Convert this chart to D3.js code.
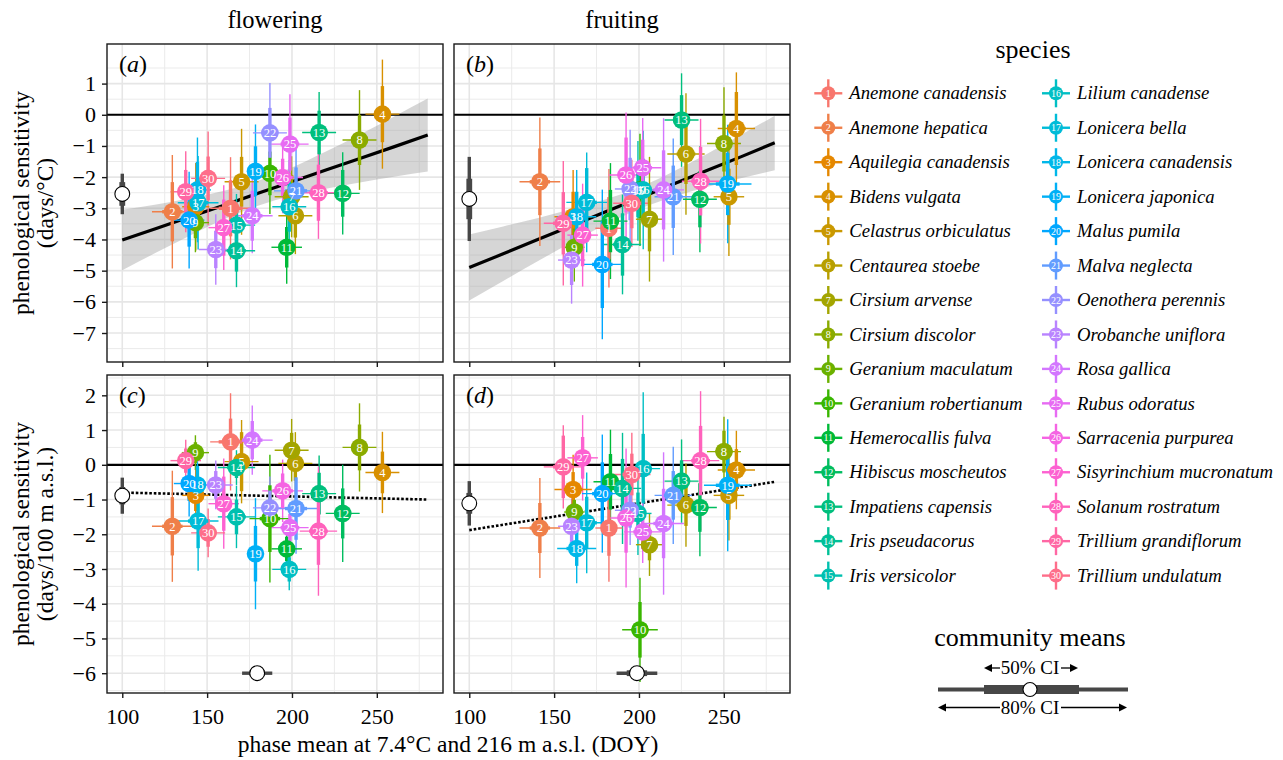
<!DOCTYPE html>
<html>
<head>
<meta charset="utf-8">
<script src="https://cdn.jsdelivr.net/npm/d3@7"></script>
<style>
  body { margin: 0; background: #fff; }
  text { font-family: "Liberation Serif", "Times New Roman", serif; }
</style>
</head>
<body>
<svg id="chart" width="1283" height="760"></svg>
<script>
// SPECIES
var species = ['Anemone canadensis', 'Anemone hepatica', 'Aquilegia canadensis', 'Bidens vulgata',
  'Celastrus orbiculatus', 'Centaurea stoebe', 'Cirsium arvense', 'Cirsium discolor',
  'Geranium maculatum', 'Geranium robertianum', 'Hemerocallis fulva', 'Hibiscus moscheutos',
  'Impatiens capensis', 'Iris pseudacorus', 'Iris versicolor', 'Lilium canadense',
  'Lonicera bella', 'Lonicera canadensis', 'Lonicera japonica', 'Malus pumila',
  'Malva neglecta', 'Oenothera perennis', 'Orobanche uniflora', 'Rosa gallica',
  'Rubus odoratus', 'Sarracenia purpurea', 'Sisyrinchium mucronatum', 'Solanum rostratum',
  'Trillium grandiflorum', 'Trillium undulatum'];

// PHASE MEANS (DOY) with half widths of the 80% and 50% intervals
var flowerDOY   = [163.8, 129.5, 143.3, 253.3, 170.3, 202.0, 199.8, 239.8, 143.1, 187.0, 196.9, 229.9, 216.0, 167.3, 167.3,
                   198.4, 144.7, 144.3, 178.5, 139.4, 202.4, 187.0, 155.1, 176.6, 198.8, 194.5, 159.8, 215.6, 137.4, 150.6];
var flowerCI80  = [12, 12, 8, 10, 10, 10, 10, 10, 8, 12, 9, 10, 10, 11, 11, 10, 12, 8, 5, 9, 13, 10, 10, 12, 11, 12, 9, 11, 9, 10];
var flowerCI50  = [7, 6, 4, 5, 5, 5, 5, 5, 4, 6, 4.5, 5, 5, 5.5, 5.5, 5, 6, 4, 2.5, 4.5, 6.5, 5, 5, 6, 5.5, 6, 4.5, 5.5, 4.5, 5];
var fruitDOY    = [182.3, 141.6, 161.2, 257.4, 253.0, 227.7, 206.2, 250.1, 161.9, 200.6, 183.2, 235.9, 225.1, 190.3, 199.4,
                   202.5, 169.2, 163.3, 252.3, 178.4, 220.2, 194.8, 160.3, 214.5, 202.2, 192.4, 166.8, 236.3, 155.4, 195.8];
var fruitCI80   = [8, 12, 11, 11, 9, 11, 8, 10, 6, 10.5, 10, 10, 10, 11, 8, 10, 12, 11.5, 14, 12, 11, 9, 8, 12, 11, 10, 9, 11, 11.5, 11];
var fruitCI50   = [4, 6, 5.5, 5.5, 4.5, 5.5, 4, 5, 3, 5, 5, 5, 5, 5.5, 4, 5, 6, 6, 7, 6, 5.5, 4.5, 4, 6, 5.5, 5, 4.5, 5.5, 6, 5.5];

// SENSITIVITY TO TEMPERATURE (days/°C)
var tempFlower      = [-3.00, -3.11, -2.95, 0.02, -2.15, -3.24, -2.63, -0.81, -3.46, -1.88, -4.25, -2.52, -0.57, -4.36, -3.54,
                       -2.95, -2.82, -2.41, -1.81, -3.38, -2.44, -0.58, -4.32, -3.24, -0.94, -2.01, -3.62, -2.50, -2.47, -2.04];
var tempFlowerCI80  = [1.64, 1.82, 1.4, 1.75, 1.7, 1.23, 1.3, 1.6, 0.95, 1.3, 1.17, 1.32, 1.3, 1.17, 1.0,
                       1.5, 1.5, 1.68, 1.5, 1.55, 1.4, 1.6, 1.13, 1.2, 1.6, 1.15, 1.36, 1.48, 1.3, 1.5];
var tempFlowerCI50  = [0.9, 0.95, 0.7, 0.9, 0.8, 0.7, 0.7, 0.8, 0.5, 0.7, 0.65, 0.75, 0.7, 0.67, 0.55,
                       0.8, 0.8, 0.9, 0.8, 0.85, 0.75, 0.8, 0.6, 0.8, 0.85, 0.6, 0.9, 0.9, 0.7, 0.7];
var tempFruit       = [-3.64, -2.15, -3.27, -0.44, -2.63, -1.26, -3.35, -0.92, -4.25, -2.41, -3.41, -2.71, -0.17, -4.16, -2.44,
                       -2.41, -2.81, -3.27, -2.22, -4.80, -2.63, -2.38, -4.66, -2.41, -1.70, -1.93, -3.86, -2.13, -3.48, -2.84];
var tempFruitCI80   = [1.9, 2.06, 1.5, 1.8, 1.9, 1.95, 2.0, 1.8, 1.1, 1.8, 1.86, 1.7, 1.5, 1.6, 1.6,
                       1.9, 1.6, 1.5, 1.9, 2.4, 1.87, 1.9, 1.4, 2.3, 1.6, 2.0, 1.65, 2.0, 2.0, 1.4];
var tempFruitCI50   = [1.0, 1.07, 0.8, 1.17, 0.9, 0.96, 1.03, 0.9, 0.6, 0.9, 1.0, 0.9, 0.8, 1.0, 0.85,
                       1.0, 1.1, 0.8, 1.0, 1.4, 1.0, 1.0, 0.8, 1.27, 0.9, 1.2, 1.0, 1.1, 1.0, 0.8];

// SENSITIVITY TO ELEVATION (days/100 m)
var elevFlower      = [0.66, -1.77, -0.88, -0.22, 0.09, 0.04, 0.42, 0.50, 0.35, -1.55, -2.42, -1.40, -0.83, -0.08, -1.50,
                       -3.01, -1.62, -0.58, -2.56, -0.54, -1.26, -1.24, -0.58, 0.71, -1.81, -0.75, -1.12, -1.91, 0.12, -1.96];
var elevFlowerCI80  = [1.4, 1.6, 0.8, 1.17, 1.2, 0.9, 0.9, 1.27, 0.5, 1.84, 0.6, 1.4, 1.1, 0.5, 0.9,
                       0.6, 1.43, 1.0, 1.6, 0.95, 1.3, 0.9, 0.7, 1.0, 0.7, 0.9, 1.3, 1.86, 0.6, 0.7];
var elevFlowerCI50  = [0.67, 0.84, 0.45, 0.6, 0.85, 0.5, 0.5, 0.66, 0.3, 0.96, 0.35, 0.72, 0.6, 0.3, 0.5,
                       0.35, 0.78, 0.55, 0.8, 0.5, 0.9, 0.5, 0.4, 0.55, 0.4, 0.5, 0.78, 0.97, 0.35, 0.4];
var elevFruit       = [-1.82, -1.82, -0.71, -0.15, -0.88, -1.16, -2.30, 0.38, -1.36, -4.75, -0.49, -1.23, -0.47, -0.68, -1.40,
                       -0.11, -1.67, -2.41, -0.59, -0.83, -0.88, -1.31, -1.77, -1.69, -1.93, -1.53, 0.20, 0.12, -0.06, -0.28];
var elevFruitCI80   = [1.55, 1.44, 1.0, 1.13, 1.3, 1.2, 0.9, 1.0, 0.6, 1.5, 1.5, 1.4, 1.2, 1.6, 1.2,
                       2.2, 1.45, 1.0, 1.9, 1.7, 1.4, 1.0, 0.8, 2.05, 0.9, 2.0, 1.23, 2.0, 1.2, 1.2];
var elevFruitCI50   = [0.8, 0.72, 0.5, 0.6, 0.7, 0.6, 0.45, 0.6, 0.35, 0.8, 0.8, 0.7, 0.6, 0.85, 0.6,
                       1.0, 0.75, 0.5, 1.0, 0.9, 0.7, 0.5, 0.45, 1.0, 0.5, 1.0, 0.6, 1.0, 0.9, 0.6];

// FITTED TRENDS
var fitX            = [100, 120, 140, 160, 180, 200, 220, 240, 260, 280];
var fitTempFlower   = [-4.02, -3.65, -3.27, -2.90, -2.52, -2.15, -1.77, -1.40, -1.03, -0.65];
var bandTempFlowerLo = [-4.99, -4.42, -3.87, -3.35, -2.92, -2.60, -2.37, -2.17, -1.99, -1.82];
var bandTempFlowerHi = [-3.05, -2.88, -2.68, -2.44, -2.12, -1.69, -1.18, -0.63, -0.06, 0.52];
var fitTempFruit    = [-4.90, -4.46, -4.01, -3.57, -3.12, -2.68, -2.23, -1.79, -1.35, -0.90];
var bandTempFruitLo = [-5.96, -5.33, -4.71, -4.10, -3.53, -3.03, -2.64, -2.32, -2.04, -1.78];
var bandTempFruitHi = [-3.84, -3.58, -3.32, -3.03, -2.72, -2.33, -1.83, -1.26, -0.65, -0.03];
var elevFitX        = [100, 280];
var fitElevFlower   = [-0.80, -1.00];
var fitElevFruit    = [-1.88, -0.49];

// COMMUNITY MEANS (panels a, b, c, d) and phase means (flowering, fruiting)
var meanSens     = [-2.54, -2.70, -0.89, -1.11];
var meanSensCI80 = [0.65, 1.35, 0.52, 0.64];
var meanSensCI50 = [0.38, 0.65, 0.25, 0.30];
var meanPhase     = [179.5, 198.8];
var meanPhaseCI80 = [8.9, 12];
var meanPhaseCI50 = [4.5, 6];

// TICKS
var xTicks = [100, 150, 200, 250];
var xMinor = [125, 175, 225, 275];
var yTicksTop = [-7, -6, -5, -4, -3, -2, -1, 0, 1];
var yTicksBot = [-6, -5, -4, -3, -2, -1, 0, 1, 2];

// ggplot hue palette (polar LUV, c = 100, l = 65)
function hueColor(h) {
    var L = 65, C = 100, hr = h * Math.PI / 180;
    var U = C * Math.cos(hr), V = C * Math.sin(hr);
    var Xn = 95.047, Yn = 100, Zn = 108.883;
    var Y = Yn * Math.pow((L + 16) / 116, 3);
    var den = Xn + 15 * Yn + 3 * Zn;
    var u = U / (13 * L) + 4 * Xn / den, v = V / (13 * L) + 9 * Yn / den;
    var X = 9 * Y * u / (4 * v);
    var Z = (12 - 3 * u - 20 * v) * Y / (4 * v);
    X /= 100; Y /= 100; Z /= 100;
    function gam(c) {
        c = c <= 0.0031308 ? 12.92 * c : 1.055 * Math.pow(c, 1 / 2.4) - 0.055;
        return Math.round(255 * Math.max(0, Math.min(1, c)));
    }
    return d3.rgb(gam(3.240479 * X - 1.537150 * Y - 0.498535 * Z),
                  gam(-0.969256 * X + 1.875992 * Y + 0.041556 * Z),
                  gam(0.055648 * X - 0.204043 * Y + 1.057311 * Z)).formatHex();
}
var colors = species.map(function(d, i) { return hueColor(15 + 12 * i); });

var svg = d3.select('#chart');
var MEANCOL = '#474747';

// Scales
var xLeft  = d3.scaleLinear().domain([91, 289]).range([107, 443]);
var xRight = d3.scaleLinear().domain([91, 289]).range([454, 790]);
var yTop   = d3.scaleLinear().domain([-7.93, 2.27]).range([362, 44]);
var yBot   = d3.scaleLinear().domain([-6.57, 2.585]).range([693, 375]);

var panels = [
    { tag: 'a', x: xLeft,  y: yTop, yTicks: yTicksTop, px: flowerDOY, px80: flowerCI80, px50: flowerCI50,
      py: tempFlower, py80: tempFlowerCI80, py50: tempFlowerCI50, fit: fitTempFlower, lo: bandTempFlowerLo, hi: bandTempFlowerHi,
      m: 0, phase: -1, left: true, bottom: false },
    { tag: 'b', x: xRight, y: yTop, yTicks: yTicksTop, px: fruitDOY, px80: fruitCI80, px50: fruitCI50,
      py: tempFruit, py80: tempFruitCI80, py50: tempFruitCI50, fit: fitTempFruit, lo: bandTempFruitLo, hi: bandTempFruitHi,
      m: 1, phase: -1, left: false, bottom: false },
    { tag: 'c', x: xLeft,  y: yBot, yTicks: yTicksBot, px: flowerDOY, px80: flowerCI80, px50: flowerCI50,
      py: elevFlower, py80: elevFlowerCI80, py50: elevFlowerCI50, dotted: fitElevFlower,
      m: 2, phase: 0, left: true, bottom: true },
    { tag: 'd', x: xRight, y: yBot, yTicks: yTicksBot, px: fruitDOY, px80: fruitCI80, px50: fruitCI50,
      py: elevFruit, py80: elevFruitCI80, py50: elevFruitCI50, dotted: fitElevFruit,
      m: 3, phase: 1, left: false, bottom: true }
];

function drawPanel(p, k) {
    var x = p.x, y = p.y;
    var x0 = x.range()[0], x1 = x.range()[1], y0 = y.range()[1], y1 = y.range()[0];
    var g = svg.append('g');

    // Grid
    var minorY = d3.range(Math.ceil(y.domain()[0] * 2) / 2, y.domain()[1], 1)
                   .filter(function(d) { return Math.abs(d % 1) === 0.5; });
    g.selectAll('line.ymin').data(minorY).enter().append('line')
        .attr('x1', x0).attr('x2', x1).attr('y1', y).attr('y2', y)
        .style('stroke', '#ebebeb').style('stroke-width', 1);
    g.selectAll('line.xmin').data(xMinor).enter().append('line')
        .attr('y1', y0).attr('y2', y1).attr('x1', x).attr('x2', x)
        .style('stroke', '#ebebeb').style('stroke-width', 1);
    g.selectAll('line.ymaj').data(p.yTicks).enter().append('line')
        .attr('x1', x0).attr('x2', x1).attr('y1', y).attr('y2', y)
        .style('stroke', '#e6e6e6').style('stroke-width', 1.6);
    g.selectAll('line.xmaj').data(xTicks).enter().append('line')
        .attr('y1', y0).attr('y2', y1).attr('x1', x).attr('x2', x)
        .style('stroke', '#e6e6e6').style('stroke-width', 1.6);

    // Ribbon + fit
    if (p.fit) {
        var area = d3.area()
            .x(function(d, i) { return x(fitX[i]); })
            .y0(function(d, i) { return y(p.lo[i]); })
            .y1(function(d, i) { return y(p.hi[i]); })
            .curve(d3.curveMonotoneX);
        g.append('path').attr('d', area(fitX))
            .style('fill', '#999999').style('opacity', 0.4);
    }
    // Zero line
    g.append('line').attr('x1', x0).attr('x2', x1).attr('y1', y(0)).attr('y2', y(0))
        .style('stroke', '#000').style('stroke-width', 2.2);
    if (p.fit) {
        var lineGen = d3.line()
            .x(function(d, i) { return x(fitX[i]); })
            .y(function(d) { return y(d); });
        g.append('path').attr('d', lineGen(p.fit))
            .style('fill', 'none').style('stroke', '#000').style('stroke-width', 3.2);
    }
    if (p.dotted) {
        g.append('line')
            .attr('x1', x(elevFitX[0])).attr('x2', x(elevFitX[1]))
            .attr('y1', y(p.dotted[0])).attr('y2', y(p.dotted[1]))
            .style('stroke', '#000').style('stroke-width', 2.6)
            .style('stroke-dasharray', '2.6,1.9');
    }

    var idx = d3.range(species.length);
    // Thin (80%) intervals
    g.selectAll('line.v80').data(idx).enter().append('line')
        .attr('x1', function(i) { return x(p.px[i]); }).attr('x2', function(i) { return x(p.px[i]); })
        .attr('y1', function(i) { return y(p.py[i] - p.py80[i]); })
        .attr('y2', function(i) { return y(p.py[i] + p.py80[i]); })
        .style('stroke', function(i) { return colors[i]; }).style('stroke-width', 1.4);
    g.selectAll('line.h80').data(idx).enter().append('line')
        .attr('y1', function(i) { return y(p.py[i]); }).attr('y2', function(i) { return y(p.py[i]); })
        .attr('x1', function(i) { return x(p.px[i] - p.px80[i]); })
        .attr('x2', function(i) { return x(p.px[i] + p.px80[i]); })
        .style('stroke', function(i) { return colors[i]; }).style('stroke-width', 1.4);
    // Thick (50%) intervals
    g.selectAll('line.v50').data(idx).enter().append('line')
        .attr('x1', function(i) { return x(p.px[i]); }).attr('x2', function(i) { return x(p.px[i]); })
        .attr('y1', function(i) { return y(p.py[i] - p.py50[i]); })
        .attr('y2', function(i) { return y(p.py[i] + p.py50[i]); })
        .style('stroke', function(i) { return colors[i]; }).style('stroke-width', 3.4);
    g.selectAll('line.h50').data(idx).enter().append('line')
        .attr('y1', function(i) { return y(p.py[i]); }).attr('y2', function(i) { return y(p.py[i]); })
        .attr('x1', function(i) { return x(p.px[i] - p.px50[i]); })
        .attr('x2', function(i) { return x(p.px[i] + p.px50[i]); })
        .style('stroke', function(i) { return colors[i]; }).style('stroke-width', 3.4);
    // Points
    g.selectAll('circle.pt').data(idx).enter().append('circle')
        .attr('cx', function(i) { return x(p.px[i]); })
        .attr('cy', function(i) { return y(p.py[i]); })
        .attr('r', 8.8)
        .style('fill', function(i) { return colors[i]; });
    g.selectAll('text.num').data(idx).enter().append('text')
        .attr('x', function(i) { return x(p.px[i]); })
        .attr('y', function(i) { return y(p.py[i]); })
        .attr('dy', '0.35em')
        .attr('text-anchor', 'middle')
        .style('font-size', '12.5px').style('fill', '#fff')
        .text(function(i) { return i + 1; });

    // Community mean (sensitivity) at DOY 100
    var cx = x(100), m = p.m;
    g.append('line').attr('x1', cx).attr('x2', cx)
        .attr('y1', y(meanSens[m] - meanSensCI80[m])).attr('y2', y(meanSens[m] + meanSensCI80[m]))
        .style('stroke', MEANCOL).style('stroke-width', 3.4);
    g.append('line').attr('x1', cx).attr('x2', cx)
        .attr('y1', y(meanSens[m] - meanSensCI50[m])).attr('y2', y(meanSens[m] + meanSensCI50[m]))
        .style('stroke', MEANCOL).style('stroke-width', 5.8);
    g.append('circle').attr('cx', cx).attr('cy', y(meanSens[m])).attr('r', 7.4)
        .style('fill', '#fff').style('stroke', '#000').style('stroke-width', 1.1);
    // Community mean (phase) at -6
    if (p.phase >= 0) {
        var ph = p.phase, cy = y(-6);
        g.append('line').attr('y1', cy).attr('y2', cy)
            .attr('x1', x(meanPhase[ph] - meanPhaseCI80[ph])).attr('x2', x(meanPhase[ph] + meanPhaseCI80[ph]))
            .style('stroke', MEANCOL).style('stroke-width', 3.4);
        g.append('line').attr('y1', cy).attr('y2', cy)
            .attr('x1', x(meanPhase[ph] - meanPhaseCI50[ph])).attr('x2', x(meanPhase[ph] + meanPhaseCI50[ph]))
            .style('stroke', MEANCOL).style('stroke-width', 5.8);
        g.append('circle').attr('cx', x(meanPhase[ph])).attr('cy', cy).attr('r', 7.4)
            .style('fill', '#fff').style('stroke', '#000').style('stroke-width', 1.1);
    }

    // Border
    g.append('rect').attr('x', x0).attr('y', y0).attr('width', x1 - x0).attr('height', y1 - y0)
        .style('fill', 'none').style('stroke', '#1a1a1a').style('stroke-width', 1.4);

    // Tag
    var tag = g.append('text').attr('x', x0 + 12).attr('y', y0 + 28).style('font-size', '24px');
    tag.append('tspan').text('(');
    tag.append('tspan').style('font-style', 'italic').text(p.tag);
    tag.append('tspan').text(')');

    // Axes
    var xAxis = d3.axisBottom(x).tickValues(xTicks).tickSize(5).tickPadding(10);
    if (!p.bottom) xAxis.tickFormat('');
    var gx = svg.append('g').attr('transform', 'translate(0,' + y1 + ')').call(xAxis);
    gx.select('.domain').remove();
    gx.selectAll('line').style('stroke', '#1a1a1a').style('stroke-width', 1.4);
    gx.selectAll('text').style('font-size', '22px').style('fill', '#000')
        .style('font-family', '"Liberation Serif", serif');
    if (p.left) {
        var gy = svg.append('g').attr('transform', 'translate(' + x0 + ',0)')
            .call(d3.axisLeft(y).tickValues(p.yTicks).tickSize(5).tickPadding(6));
        gy.select('.domain').remove();
        gy.selectAll('line').style('stroke', '#1a1a1a').style('stroke-width', 1.4);
        gy.selectAll('text').style('font-size', '22px').style('fill', '#000')
            .style('font-family', '"Liberation Serif", serif');
    }
}

panels.forEach(drawPanel);

// Strip titles
svg.append('text').attr('x', 275).attr('y', 28).attr('text-anchor', 'middle')
    .style('font-size', '24.5px').text('flowering');
svg.append('text').attr('x', 622).attr('y', 28).attr('text-anchor', 'middle')
    .style('font-size', '24.5px').text('fruiting');

// Axis titles
function yTitle(cy, line1, line2) {
    svg.append('text').attr('transform', 'translate(29,' + cy + ') rotate(-90)')
        .attr('text-anchor', 'middle').style('font-size', '23.5px').text(line1);
    svg.append('text').attr('transform', 'translate(53,' + cy + ') rotate(-90)')
        .attr('text-anchor', 'middle').style('font-size', '23.5px').text(line2);
}
yTitle(203, 'phenological sensitivity', '(days/°C)');
yTitle(534, 'phenological sensitivity', '(days/100 m a.s.l.)');
svg.append('text').attr('x', 448).attr('y', 752).attr('text-anchor', 'middle')
    .style('font-size', '23.5px').text('phase mean at 7.4°C and 216 m a.s.l. (DOY)');

// Species legend
svg.append('text').attr('x', 1033).attr('y', 58).attr('text-anchor', 'middle')
    .style('font-size', '26px').text('species');
var leg = svg.append('g');
var rows = leg.selectAll('g.key').data(species).enter().append('g')
    .attr('transform', function(d, i) {
        var col = Math.floor(i / 15), row = i % 15;
        return 'translate(' + (col === 0 ? 828.3 : 1056) + ',' + (93.3 + row * 34.45) + ')';
    });
rows.append('line').attr('x1', -14).attr('x2', 14)
    .style('stroke', function(d, i) { return colors[i]; }).style('stroke-width', 2.4);
rows.append('line').attr('y1', -14).attr('y2', 14)
    .style('stroke', function(d, i) { return colors[i]; }).style('stroke-width', 2.4);
rows.append('circle').attr('r', 7).style('fill', function(d, i) { return colors[i]; });
rows.append('text').attr('dy', '0.35em').attr('text-anchor', 'middle')
    .style('font-size', '10px').style('fill', '#fff')
    .text(function(d, i) { return i + 1; });
rows.append('text').attr('x', 21).attr('dy', '0.33em')
    .style('font-size', '18.7px').style('font-style', 'italic')
    .text(function(d) { return d; });

// Community means legend
svg.append('text').attr('x', 1030).attr('y', 646).attr('text-anchor', 'middle')
    .style('font-size', '26px').text('community means');
var cm = svg.append('g');
cm.append('line').attr('x1', 938).attr('x2', 1128).attr('y1', 689.5).attr('y2', 689.5)
    .style('stroke', MEANCOL).style('stroke-width', 4);
cm.append('line').attr('x1', 984).attr('x2', 1079).attr('y1', 689.5).attr('y2', 689.5)
    .style('stroke', MEANCOL).style('stroke-width', 9);
cm.append('circle').attr('cx', 1030).attr('cy', 689.5).attr('r', 7)
    .style('fill', '#fff').style('stroke', '#000').style('stroke-width', 1.1);

function arrow(xFrom, xTo, yy) {
    var dir = xTo > xFrom ? 1 : -1;
    cm.append('line').attr('x1', xFrom).attr('x2', xTo - dir * 6).attr('y1', yy).attr('y2', yy)
        .style('stroke', '#000').style('stroke-width', 1.3);
    cm.append('path')
        .attr('d', 'M' + xTo + ',' + yy + 'L' + (xTo - dir * 8) + ',' + (yy - 4) + 'L' + (xTo - dir * 8) + ',' + (yy + 4) + 'Z')
        .style('fill', '#000');
}
svg.append('text').attr('x', 1030).attr('y', 674).attr('text-anchor', 'middle')
    .style('font-size', '19px').text('50% CI');
arrow(1000, 984, 668);
arrow(1061, 1078, 668);
svg.append('text').attr('x', 1030).attr('y', 713.5).attr('text-anchor', 'middle')
    .style('font-size', '19px').text('80% CI');
arrow(1000, 938, 707.5);
arrow(1061, 1127, 707.5);
</script>
</body>
</html>
